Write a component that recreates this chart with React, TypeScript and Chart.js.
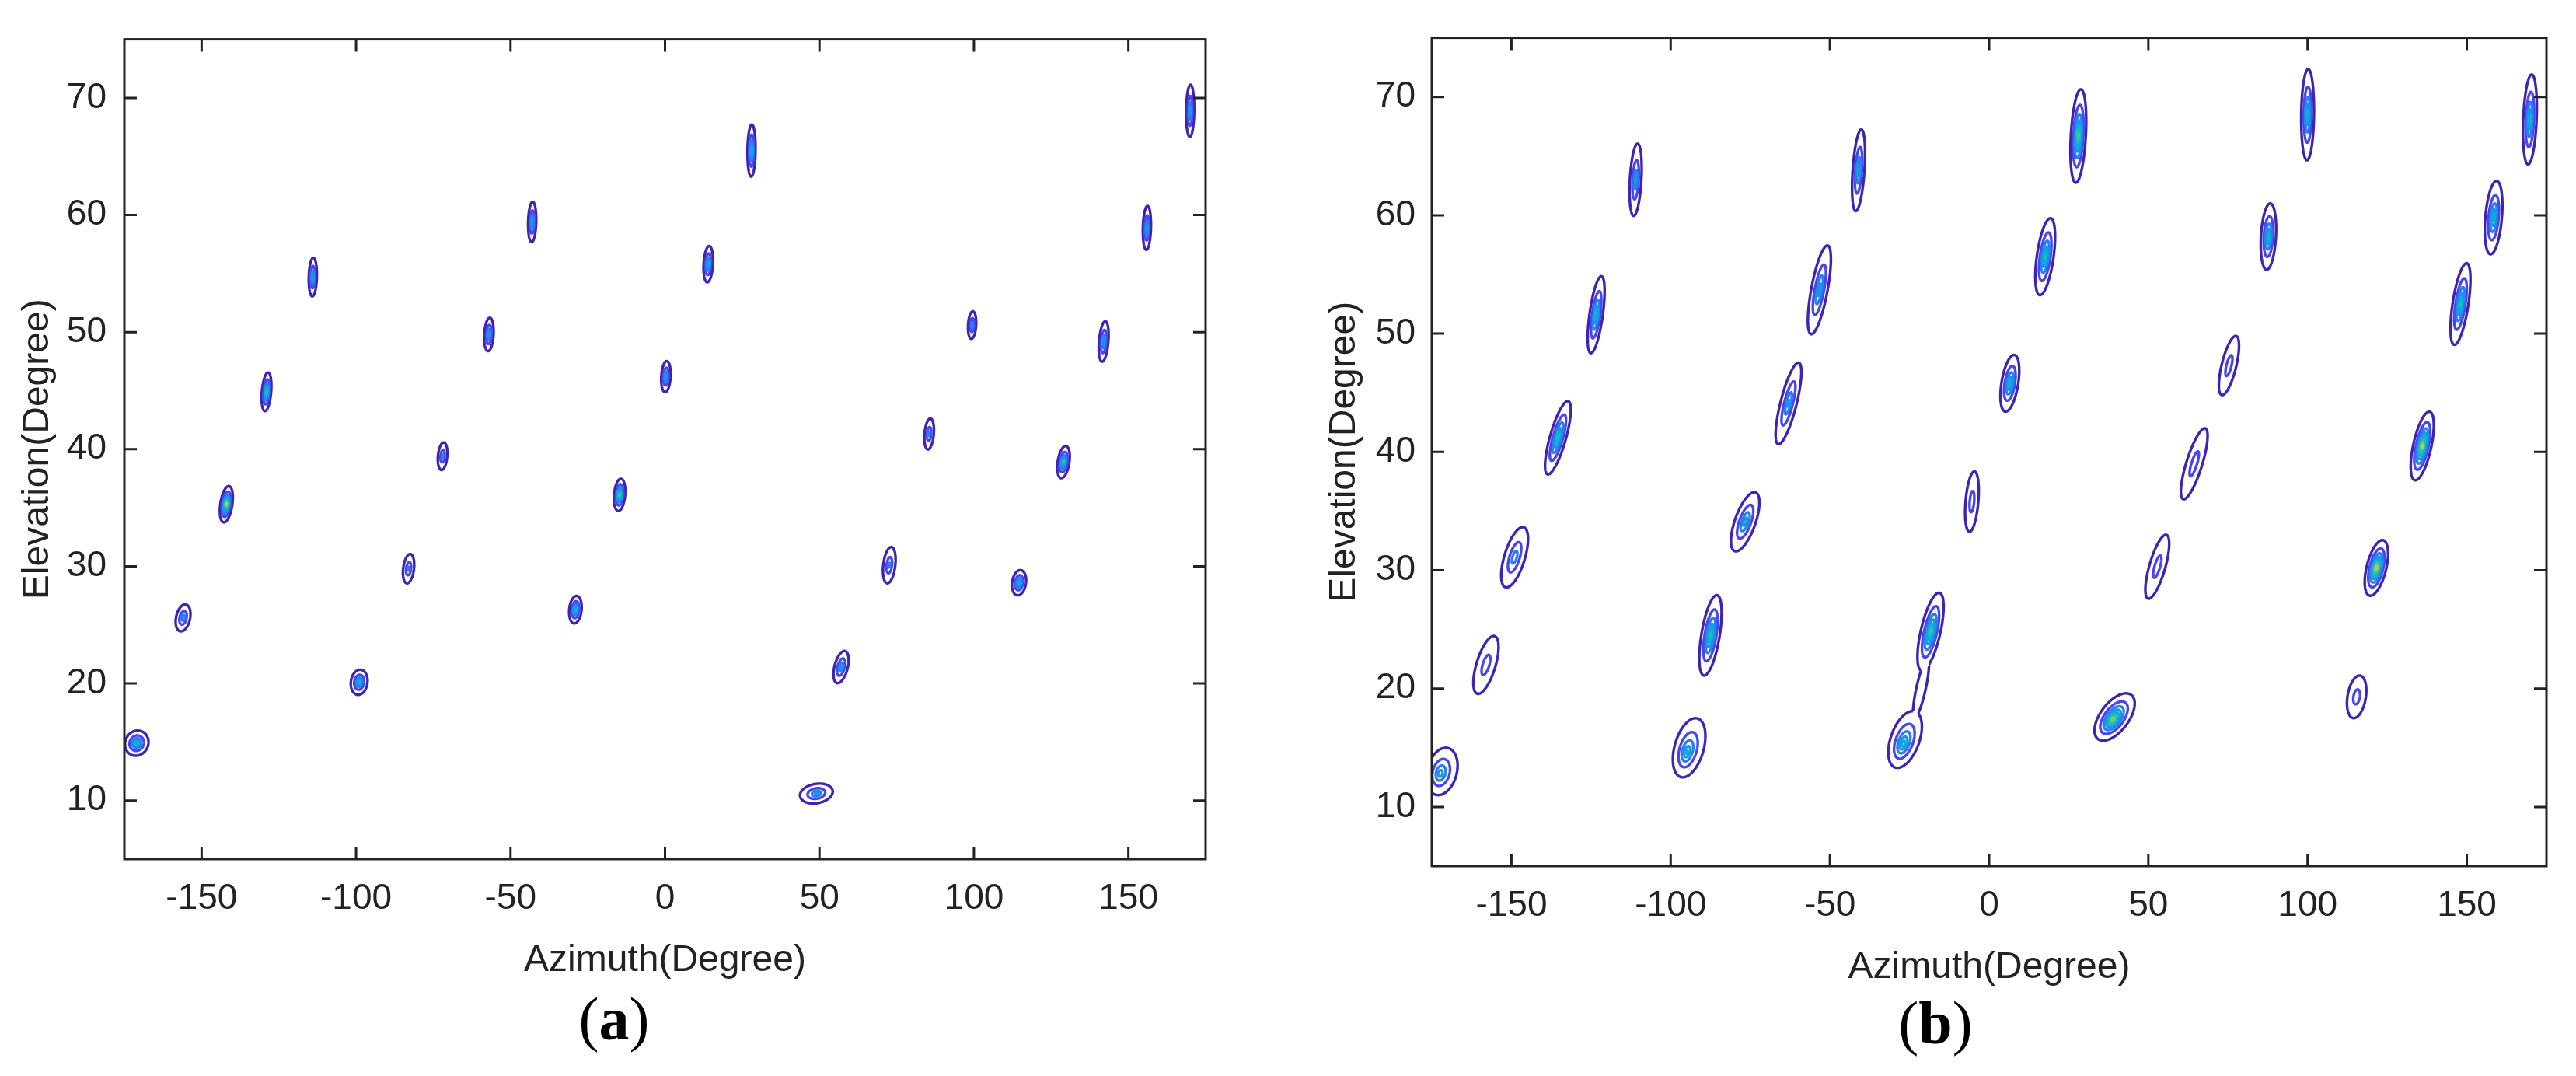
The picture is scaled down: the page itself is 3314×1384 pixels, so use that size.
import React, { useEffect, useRef } from 'react';
import { Chart, registerables } from 'chart.js';

Chart.register(...registerables);

const FONT = "'Liberation Sans', Arial, sans-serif";
const SERIF = "'Liberation Serif', 'Times New Roman', serif";
const INK = '#222222';

// ---- axes ----
const AZ_TICKS = [-150, -100, -50, 0, 50, 100, 150];
const EL_TICKS = [10, 20, 30, 40, 50, 60, 70];
const AZ_RANGE = [-175, 175];
const EL_RANGE = [5, 75];
const AZ_TITLE = 'Azimuth(Degree)';
const EL_TITLE = 'Elevation(Degree)';

// ---- panel (a): estimated source peaks ----
const A_AZ = [-171, -156, -142, -129, -114, -99, -83, -72, -57, -43, -29, -14.7, 0.3, 14, 28, 49, 57, 72.6, 85.5, 99.4, 114.6, 129, 142, 156, 170];
const A_EL = [14.9, 25.6, 35.3, 44.9, 54.7, 20.1, 29.8, 39.4, 49.8, 59.4, 26.3, 36.1, 46.2, 55.8, 65.5, 10.6, 21.4, 30.1, 41.3, 50.6, 28.6, 38.9, 49.2, 58.9, 68.9];
const A_PEAK = [6, 4, 9.5, 7, 5, 5.5, 3.5, 3.5, 5, 5, 6, 7.5, 5, 5.5, 6, 4.5, 4.5, 3.5, 3.5, 4, 5.5, 6.5, 5, 5, 5];
const A_SPREAD_AZ = [7.6, 4.6, 3.9, 3.0, 2.6, 5.4, 3.5, 3.0, 3.0, 2.6, 4.0, 3.6, 3.0, 3.0, 2.6, 10.4, 4.4, 3.9, 3.0, 2.6, 4.5, 3.8, 3.0, 2.6, 2.6];
const A_SPREAD_EL = [2.15, 2.3, 3.1, 3.3, 3.3, 2.15, 2.5, 2.35, 2.85, 3.45, 2.35, 2.75, 2.65, 3.1, 4.45, 1.7, 2.75, 3.1, 2.65, 2.35, 2.15, 2.75, 3.45, 3.75, 4.45];
const A_SKEW = [0.3, 0.6, 0.5, 0.3, 0.1, 0.3, 0.4, 0.3, 0.2, 0.1, 0.3, 0.3, 0.2, 0.2, 0.05, 1.2, 0.8, 0.4, 0.3, 0.2, 0.4, 0.5, 0.3, 0.1, 0.05];

// ---- panel (b): estimated source peaks (index 14 is the saddle bridge) ----
const B_AZ = [-172.4, -158, -149, -135.4, -123.4, -111, -95, -87.5, -76.6, -63, -53.3, -41, -27, -18.4, -21.4, -5.4, 6.5, 17.6, 28, 38.8, 52.8, 64.4, 75.3, 87.7, 100, 115.4, 121.6, 136, 148, 158.4, 169.8];
const B_EL = [12.8, 22, 31.1, 41.2, 51.6, 63, 14.6, 24.5, 34.1, 44.1, 53.7, 63.8, 15.3, 24.8, 20.0, 35.8, 45.8, 56.5, 66.7, 17.4, 30.3, 39, 47.3, 58.2, 68.5, 19.3, 30.2, 40.5, 52.5, 59.8, 68.1];
const B_PEAK = [5, 2.9, 4, 6.5, 6, 4.5, 5.5, 7, 5, 4.5, 5, 5, 6, 7.5, 1.5, 2.9, 6, 6.5, 8, 9, 2.9, 2.9, 2.9, 6, 6, 2.9, 10, 9.5, 6.5, 6, 6];
const B_SPREAD_AZ = [9.5, 6.2, 6.7, 5.2, 4.2, 3.6, 9.4, 5.8, 6.8, 5.2, 5.2, 3.7, 9.4, 6.3, 3.0, 4.0, 5.3, 5.3, 4.7, 10.4, 5.2, 5.2, 4.7, 4.7, 4.0, 5.8, 6.3, 5.8, 5.0, 5.2, 4.2];
const B_SPREAD_EL = [4.0, 4.9, 5.1, 6.2, 6.5, 6.1, 5.0, 6.8, 5.0, 6.9, 7.5, 6.9, 4.8, 6.6, 5.0, 5.1, 4.8, 6.5, 7.9, 4.0, 5.4, 6.0, 5.0, 5.6, 7.7, 3.6, 4.7, 5.8, 6.9, 6.2, 7.6];
const B_SKEW = [0.6, 1.0, 1.0, 1.0, 0.5, 0.2, 0.8, 0.58, 1.16, 0.9, 0.67, 0.25, 1.0, 0.8, 0.8, 0.3, 0.55, 0.5, 0.2, 1.8, 1.0, 1.1, 0.85, 0.2, 0.05, 0.5, 0.8, 0.75, 0.55, 0.3, 0.15];
const B_SHIFT_AZ = [0.6, 0, 0, 0, 0, 0, 0.8, 0, 0, 0, 0, 0, 0.6, 0, 0, 0, 0, 0, 0, 0.6, 0, 0, 0, 0, 0, 0, 0, 0, 0, 0, 0];
const B_SHIFT_EL = [0.2, 0, 0, 0, 0, 0, 0.4, 0, 0, 0, 0, 0, 0.4, 0, 0, 0, 0, 0, 0, 0.2, 0, 0, 0, 0, 0, 0, 0, 0, 0, 0, 0];
const B_GROUP = [0, 0, 0, 0, 0, 0, 0, 0, 0, 0, 0, 0, 1, 1, 1, 0, 0, 0, 0, 0, 0, 0, 0, 0, 0, 0, 0, 0, 0, 0, 0];

// contour level colours (parula-like, low -> high)
const LEVEL_COLORS = ['#3F23B2', '#4747EE', '#2B7DF3', '#1698E6', '#0DAED8', '#1ABDB9', '#3DC495', '#7EC772', '#C9C24C', '#F4D02C'];

type Peak = { x: number; y: number; peak: number; w: number; h: number; skew: number; dx: number; dy: number; group: number };

function buildPeaks(az: number[], el: number[], peak: number[], w: number[], h: number[], skew: number[],
  dx?: number[], dy?: number[], group?: number[]): Peak[] {
  return az.map((x, i) => ({
    x, y: el[i], peak: peak[i], w: w[i], h: h[i], skew: skew[i],
    dx: dx ? dx[i] : 0, dy: dy ? dy[i] : 0, group: group ? group[i] : 0,
  }));
}

function tracePath(ctx: CanvasRenderingContext2D, chart: any, p: Peak, s: number) {
  const xs = chart.scales.x;
  const ys = chart.scales.y;
  const N = 96;
  const a = p.w / 2;
  const b = p.h / 2;
  const cx = p.x + p.dx * s;
  const cy = p.y + p.dy * s;
  for (let i = 0; i <= N; i++) {
    const t = (i / N) * Math.PI * 2;
    const ey = b * s * Math.sin(t);
    const ex = a * s * Math.cos(t) + p.skew * ey;
    const px = xs.getPixelForValue(cx + ex);
    const py = ys.getPixelForValue(cy + ey);
    if (i === 0) ctx.moveTo(px, py);
    else ctx.lineTo(px, py);
  }
  ctx.closePath();
}

const contourPlugin = {
  id: 'contours',
  afterDatasetsDraw(chart: any) {
    const ctx: CanvasRenderingContext2D = chart.ctx;
    const area = chart.chartArea;
    const peaks: Peak[] = chart.data.datasets[0].data;
    ctx.save();
    ctx.beginPath();
    ctx.rect(area.left, area.top, area.right - area.left, area.bottom - area.top);
    ctx.clip();
    ctx.lineWidth = 3.4;
    ctx.lineJoin = 'round';
    const maxLevel = 10;
    for (let k = 1; k <= maxLevel; k++) {
      for (const p of peaks) {
        const n = Math.ceil(p.peak) - 1;
        if (k > n) continue;
        const s = Math.log(p.peak / k) / Math.log(p.peak);
        ctx.strokeStyle = LEVEL_COLORS[k - 1];
        if (k === 1 && p.group > 0) {
          // outer contour of merged sources: outline of the union
          ctx.save();
          for (const q of peaks) {
            if (q === p || q.group !== p.group) continue;
            ctx.beginPath();
            ctx.rect(0, 0, chart.width, chart.height);
            tracePath(ctx, chart, q, 1);
            ctx.clip('evenodd');
          }
          ctx.beginPath();
          tracePath(ctx, chart, p, s);
          ctx.stroke();
          ctx.restore();
        } else {
          ctx.beginPath();
          tracePath(ctx, chart, p, s);
          ctx.stroke();
        }
      }
    }
    ctx.restore();
  },
};

const framePlugin = {
  id: 'frame',
  afterDraw(chart: any, _args: any, opts: any) {
    const ctx: CanvasRenderingContext2D = chart.ctx;
    const { left, top, right, bottom } = chart.chartArea;
    const xs = chart.scales.x;
    const ys = chart.scales.y;
    ctx.save();
    ctx.strokeStyle = INK;
    ctx.lineWidth = 3;
    ctx.strokeRect(left, top, right - left, bottom - top);
    const tl = 16;
    ctx.beginPath();
    for (const v of AZ_TICKS) {
      const x = xs.getPixelForValue(v);
      ctx.moveTo(x, bottom); ctx.lineTo(x, bottom - tl);
      ctx.moveTo(x, top); ctx.lineTo(x, top + tl);
    }
    for (const v of EL_TICKS) {
      const y = ys.getPixelForValue(v);
      ctx.moveTo(left, y); ctx.lineTo(left + tl, y);
      ctx.moveTo(right, y); ctx.lineTo(right - tl, y);
    }
    ctx.stroke();

    // panel label "(a)" / "(b)"
    if (opts && opts.letter) {
      const size = 78;
      const reg = `${size}px ${SERIF}`;
      const bold = `bold ${size}px ${SERIF}`;
      ctx.fillStyle = '#000';
      ctx.textBaseline = 'alphabetic';
      ctx.font = reg;
      const wp = ctx.measureText('(').width;
      const wq = ctx.measureText(')').width;
      ctx.font = bold;
      const wl = ctx.measureText(opts.letter).width;
      let x = opts.x - (wp + wl + wq) / 2;
      ctx.textAlign = 'left';
      ctx.font = reg; ctx.fillText('(', x, opts.y); x += wp;
      ctx.font = bold; ctx.fillText(opts.letter, x, opts.y); x += wl;
      ctx.font = reg; ctx.fillText(')', x, opts.y);
    }
    ctx.restore();
  },
};

type PanelCfg = {
  peaks: Peak[];
  pageLeft: number;
  padding: { left: number; top: number; right: number; bottom: number };
  yBox: number;
  xBox: number;
  yTitlePad: number;
  xTitlePad: number;
  yTickPad: number;
  xTickPad: number;
  letter: string;
  letterX: number;
  letterY: number;
};

const W = 1657;
const H = 1384;

function Panel({ cfg }: { cfg: PanelCfg }) {
  const ref = useRef<HTMLCanvasElement | null>(null);
  useEffect(() => {
    if (!ref.current) return;
    const tickFont = { family: FONT, size: 46 };
    const titleFont = { family: FONT, size: 48 };
    const chart = new Chart(ref.current, {
      type: 'scatter',
      data: {
        datasets: [{
          data: cfg.peaks as any,
          pointRadius: 0,
          pointHoverRadius: 0,
          showLine: false,
        }],
      },
      plugins: [contourPlugin, framePlugin],
      options: {
        responsive: false,
        animation: false,
        devicePixelRatio: 1,
        events: [],
        layout: { padding: cfg.padding },
        plugins: {
          legend: { display: false },
          tooltip: { enabled: false },
          frame: { letter: cfg.letter, x: cfg.letterX, y: cfg.letterY },
        } as any,
        scales: {
          x: {
            type: 'linear',
            min: AZ_RANGE[0],
            max: AZ_RANGE[1],
            afterBuildTicks: (s: any) => { s.ticks = AZ_TICKS.map((v) => ({ value: v })); },
            afterFit: (s: any) => { s.height = cfg.xBox; },
            grid: { display: false, drawTicks: false },
            border: { display: false },
            ticks: {
              font: tickFont, color: INK, padding: cfg.xTickPad, maxRotation: 0, autoSkip: false,
              callback: (v: any) => String(v),
            },
            title: { display: true, text: AZ_TITLE, font: titleFont, color: INK, padding: { top: cfg.xTitlePad, bottom: 0 } },
          },
          y: {
            type: 'linear',
            min: EL_RANGE[0],
            max: EL_RANGE[1],
            afterBuildTicks: (s: any) => { s.ticks = EL_TICKS.map((v) => ({ value: v })); },
            afterFit: (s: any) => { s.width = cfg.yBox; },
            grid: { display: false, drawTicks: false },
            border: { display: false },
            ticks: {
              font: tickFont, color: INK, padding: cfg.yTickPad, autoSkip: false,
              callback: (v: any) => String(v),
            },
            title: { display: true, text: EL_TITLE, font: titleFont, color: INK, padding: { top: cfg.yTitlePad, bottom: 0 } },
          },
        },
      } as any,
    });
    return () => chart.destroy();
  }, [cfg]);
  return (
    <canvas
      ref={ref}
      width={W}
      height={H}
      style={{ position: 'absolute', left: cfg.pageLeft, top: 0, width: W, height: H, display: 'block' }}
    />
  );
}

const PANEL_A: PanelCfg = {
  peaks: buildPeaks(A_AZ, A_EL, A_PEAK, A_SPREAD_AZ, A_SPREAD_EL, A_SKEW),
  pageLeft: 0,
  padding: { left: 0, top: 49, right: 106, bottom: 119 },
  yBox: 160,
  xBox: 160,
  yTitlePad: 20,
  xTitlePad: 8,
  yTickPad: 23,
  xTickPad: 24,
  letter: 'a',
  letterX: 790,
  letterY: 1337,
};

const PANEL_B: PanelCfg = {
  peaks: buildPeaks(B_AZ, B_EL, B_PEAK, B_SPREAD_AZ, B_SPREAD_EL, B_SKEW, B_SHIFT_AZ, B_SHIFT_EL, B_GROUP),
  pageLeft: 1657,
  padding: { left: 0, top: 44, right: 38, bottom: 110 },
  yBox: 185,
  xBox: 160,
  yTitlePad: 44,
  xTitlePad: 9,
  yTickPad: 21,
  xTickPad: 24,
  letter: 'b',
  letterX: 833,
  letterY: 1342,
};

export default function App() {
  return (
    <div style={{ position: 'absolute', left: 0, top: 0, width: 3314, height: 1384, background: '#fff' }}>
      <Panel cfg={PANEL_A} />
      <Panel cfg={PANEL_B} />
    </div>
  );
}
